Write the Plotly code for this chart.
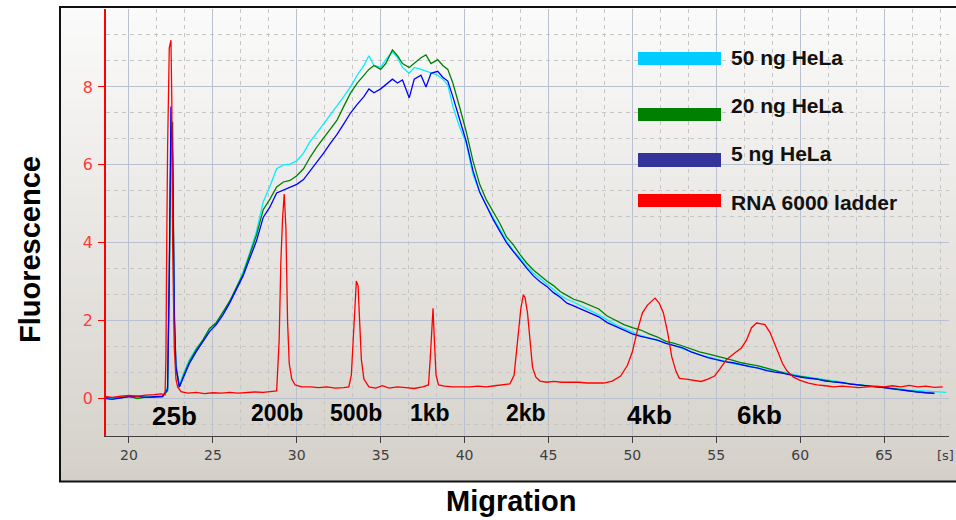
import plotly.graph_objects as go

# ---------------- data ----------------
mig_s = [18.6, 19.0, 19.5, 20.0, 20.5, 21.0, 21.5, 22.0, 22.3, 22.4, 22.5, 22.6, 22.7, 22.8,
         23.0, 23.3, 23.6, 24.0, 24.4, 24.8, 25.2, 25.6, 26.0, 26.4, 26.8, 27.2, 27.6, 28.0,
         28.4, 28.8, 29.2, 29.6, 30.0, 30.4, 30.8, 31.2, 31.6, 32.0, 32.4, 32.8, 33.2, 33.6,
         34.0, 34.3, 34.6, 35.0, 35.3, 35.7, 36.0, 36.3, 36.7, 37.0, 37.4, 37.7, 38.0, 38.4,
         38.7, 39.0, 39.3, 39.7, 40.1, 40.5, 40.9, 41.3, 41.7, 42.1, 42.5, 42.9, 43.3, 43.7,
         44.1, 44.5, 44.9, 45.3, 45.7, 46.1, 46.5, 47.0, 47.5, 48.0, 48.5, 49.0, 49.5, 50.0,
         50.5, 51.0, 51.5, 52.0, 52.5, 53.0, 53.5, 54.0, 54.5, 55.0, 55.5, 56.0, 56.5, 57.0,
         57.5, 58.0, 58.5, 59.0, 59.5, 60.0, 60.5, 61.0, 61.5, 62.0, 62.5, 63.0, 63.5, 64.0,
         64.5, 65.0, 65.5, 66.0, 66.5, 67.0, 67.5, 68.0, 68.7]

hela_50 = [0.02, 0.00, 0.03, 0.04, 0.02, 0.05, 0.06, 0.04, 0.30, 3.5, 6.4, 6.0, 2.5, 0.9,
           0.35, 0.70, 1.00, 1.28, 1.50, 1.78, 1.95, 2.20, 2.50, 2.85, 3.25, 3.75, 4.30, 5.05,
           5.45, 5.90, 6.00, 6.02, 6.10, 6.30, 6.60, 6.82, 7.05, 7.28, 7.50, 7.75, 8.00, 8.30,
           8.55, 8.80, 8.55, 8.50, 8.70, 8.90, 8.75, 8.50, 8.35, 8.50, 8.45, 8.40, 8.35, 8.30,
           8.20, 8.05, 7.50, 6.98, 6.55, 5.75, 5.30, 4.95, 4.65, 4.35, 4.05, 3.80, 3.62, 3.40,
           3.22, 3.08, 2.95, 2.80, 2.65, 2.55, 2.48, 2.38, 2.26, 2.15, 2.02, 1.90, 1.80, 1.70,
           1.62, 1.56, 1.50, 1.44, 1.36, 1.28, 1.20, 1.12, 1.07, 1.02, 0.96, 0.90, 0.87, 0.83,
           0.78, 0.74, 0.71, 0.68, 0.62, 0.58, 0.55, 0.52, 0.48, 0.45, 0.42, 0.38, 0.36, 0.34,
           0.31, 0.30, 0.27, 0.25, 0.22, 0.21, 0.19, 0.18, 0.16]

hela_20 = [0.03, 0.02, 0.01, 0.06, 0.00, 0.04, 0.03, 0.05, 0.20, 3.0, 6.8, 7.1, 2.0, 0.8,
           0.30, 0.65, 0.95, 1.25, 1.50, 1.80, 1.95, 2.22, 2.50, 2.85, 3.20, 3.70, 4.20, 4.85,
           5.12, 5.43, 5.56, 5.60, 5.72, 5.90, 6.20, 6.46, 6.68, 6.90, 7.15, 7.50, 7.84, 8.10,
           8.30, 8.45, 8.55, 8.45, 8.60, 8.95, 8.80, 8.60, 8.50, 8.60, 8.75, 8.82, 8.60, 8.70,
           8.55, 8.45, 8.10, 7.49, 6.85, 6.10, 5.50, 5.10, 4.80, 4.50, 4.15, 3.95, 3.70, 3.48,
           3.30, 3.15, 3.02, 2.90, 2.75, 2.65, 2.55, 2.48, 2.40, 2.30, 2.12, 2.00, 1.90, 1.82,
           1.76, 1.66, 1.58, 1.47, 1.42, 1.35, 1.28, 1.20, 1.15, 1.10, 1.04, 0.98, 0.92, 0.88,
           0.84, 0.78, 0.72, 0.67, 0.60, 0.57, 0.54, 0.50, 0.47, 0.43, 0.40, 0.37, 0.35, 0.32,
           0.30, 0.28, 0.26, 0.23, 0.20, 0.18, 0.16, 0.13, None]

hela_5 = [0.00, -0.02, 0.02, 0.05, 0.06, 0.03, 0.05, 0.06, 0.25, 3.2, 7.5, 6.2, 2.2, 0.8,
          0.30, 0.60, 0.90, 1.20, 1.45, 1.72, 1.90, 2.15, 2.45, 2.80, 3.15, 3.60, 4.05, 4.65,
          4.92, 5.28, 5.35, 5.42, 5.50, 5.62, 5.85, 6.05, 6.30, 6.55, 6.78, 7.05, 7.33, 7.55,
          7.75, 7.95, 7.85, 7.95, 8.05, 8.20, 8.10, 8.18, 7.72, 8.20, 8.30, 8.00, 8.35, 8.40,
          8.25, 8.15, 7.75, 7.15, 6.60, 5.85, 5.30, 4.95, 4.60, 4.30, 4.00, 3.78, 3.55, 3.35,
          3.15, 3.00, 2.88, 2.72, 2.60, 2.45, 2.38, 2.28, 2.18, 2.10, 1.95, 1.85, 1.75, 1.66,
          1.60, 1.55, 1.50, 1.42, 1.35, 1.30, 1.20, 1.12, 1.05, 1.00, 0.95, 0.92, 0.86, 0.82,
          0.78, 0.72, 0.68, 0.65, 0.60, 0.55, 0.52, 0.50, 0.45, 0.43, 0.41, 0.37, 0.35, 0.33,
          0.30, 0.28, 0.25, 0.22, 0.20, 0.17, 0.15, 0.14, None]

mig_l = [18.6, 19.0, 19.5, 20.0, 20.5, 21.0, 21.5, 21.9, 22.15, 22.2, 22.25, 22.3, 22.4, 22.5,
         22.55, 22.6, 22.7, 22.8, 22.9, 23.1, 23.5, 24.0, 24.5, 25.0, 25.5, 26.0, 26.5, 27.0,
         27.5, 28.0, 28.5, 28.8, 28.95, 29.05, 29.15, 29.25, 29.35, 29.45, 29.55, 29.7, 29.9,
         30.3, 30.8, 31.3, 31.8, 32.3, 32.8, 33.1, 33.25, 33.35, 33.45, 33.55, 33.65, 33.75,
         33.85, 34.0, 34.3, 34.7, 35.1, 35.5, 36.0, 36.5, 37.0, 37.5, 37.85, 37.95, 38.05,
         38.12, 38.2, 38.3, 38.45, 38.8, 39.3, 39.8, 40.3, 40.8, 41.3, 41.8, 42.3, 42.7, 42.95,
         43.15, 43.35, 43.5, 43.6, 43.75, 43.9, 44.05, 44.25, 44.5, 44.9, 45.3, 45.8, 46.3,
         46.8, 47.3, 47.8, 48.3, 48.8, 49.3, 49.7, 50.0, 50.3, 50.6, 50.9, 51.15, 51.35, 51.6,
         51.85, 52.1, 52.35, 52.6, 52.8, 53.2, 53.7, 54.1, 54.5, 54.9, 55.2, 55.6, 56.1, 56.5,
         56.8, 57.1, 57.4, 57.7, 57.9, 58.2, 58.5, 58.7, 58.95, 59.2, 59.6, 60.0, 60.5, 61.0,
         61.5, 62.0, 62.5, 63.0, 63.5, 64.0, 64.5, 65.0, 65.5, 66.0, 66.5, 67.0, 67.5, 68.0,
         68.5]

ladder = [0.05, 0.03, 0.06, 0.08, 0.06, 0.09, 0.10, 0.12, 0.10, 1.0, 4.0, 6.4, 9.0, 9.2,
          7.7, 4.0, 1.3, 0.5, 0.3, 0.18, 0.14, 0.16, 0.13, 0.15, 0.14, 0.16, 0.14, 0.15,
          0.17, 0.16, 0.18, 0.20, 1.5, 3.5, 4.6, 5.25, 4.4, 2.0, 0.9, 0.5, 0.35,
          0.30, 0.30, 0.28, 0.30, 0.27, 0.28, 0.30, 0.6, 1.5, 2.5, 3.02, 2.9, 2.0,
          1.0, 0.5, 0.30, 0.27, 0.33, 0.27, 0.30, 0.28, 0.26, 0.30, 0.35, 1.0, 2.0,
          2.32, 1.5, 0.6, 0.35, 0.32, 0.30, 0.30, 0.30, 0.32, 0.30, 0.33, 0.35, 0.38, 0.6,
          1.4, 2.3, 2.66, 2.6, 2.2, 1.4, 0.8, 0.55, 0.45, 0.42, 0.44, 0.42, 0.42,
          0.42, 0.40, 0.40, 0.40, 0.45, 0.58, 0.85, 1.2, 1.75, 2.2, 2.4, 2.5, 2.58, 2.45,
          2.2, 1.7, 1.07, 0.7, 0.52, 0.50, 0.47, 0.44, 0.50, 0.58, 0.75, 1.0, 1.17, 1.3,
          1.5, 1.82, 1.94, 1.92, 1.9, 1.7, 1.4, 1.17, 0.9, 0.72, 0.55, 0.47, 0.40, 0.35,
          0.33, 0.30, 0.32, 0.30, 0.28, 0.30, 0.32, 0.30, 0.33, 0.30, 0.34, 0.30, 0.32, 0.29,
          0.30]

size_labels = ["25b", "200b", "500b", "1kb", "2kb", "4kb", "6kb"]
size_label_x = [22.71, 28.82, 33.5, 37.95, 43.69, 51.05, 57.57]
size_label_y = [-0.45, -0.37, -0.37, -0.37, -0.37, -0.42, -0.42]
size_label_sz = [26, 23, 23, 23, 23, 26, 26]

series_names = ["50 ng HeLa", "20 ng HeLa", "5 ng HeLa", "RNA 6000 ladder"]
line_colors = ["#00F0FF", "#008000", "#0000FF", "#FF0000"]
legend_colors = ["#00CCFF", "#008000", "#333399", "#FF0000"]

x_ticks = [20, 25, 30, 35, 40, 45, 50, 55, 60, 65]
y_ticks = [0, 2, 4, 6, 8]

# ---------------- geometry helpers (pixels -> paper) ----------------
PL, PR, PT, PB = 106, 949, 9, 436
def fx(px):
    return (px - PL) / (PR - PL)
def fy(py):
    return (PB - py) / (PB - PT)

fig = go.Figure()
for name, ys, col in zip(series_names[:3], [hela_50, hela_20, hela_5], line_colors[:3]):
    fig.add_trace(go.Scatter(x=mig_s, y=ys, mode="lines", name=name,
                             line=dict(color=col, width=1.3), showlegend=False))
fig.add_trace(go.Scatter(x=mig_l, y=ladder, mode="lines", name=series_names[3],
                         line=dict(color=line_colors[3], width=1.3), showlegend=False))

shapes = []
# gradient panel background
top_c = (251, 251, 251)
bot_c = (212, 208, 201)
y_top_px, y_bot_px = 7, 482
N = 70
for i in range(N):
    t = (i + 0.5) / N
    c = tuple(int(round(top_c[k] + (bot_c[k] - top_c[k]) * t)) for k in range(3))
    y0 = y_top_px + (y_bot_px - y_top_px) * i / N
    y1 = y_top_px + (y_bot_px - y_top_px) * (i + 1) / N + 0.8
    shapes.append(dict(type="rect", xref="paper", yref="paper",
                       x0=fx(60), x1=fx(960), y0=fy(y0), y1=fy(min(y1, y_bot_px)),
                       fillcolor="rgb(%d,%d,%d)" % c, line=dict(width=0), layer="below"))
# panel border
shapes.append(dict(type="rect", xref="paper", yref="paper",
                   x0=fx(60), x1=fx(962), y0=fy(7), y1=fy(481.5),
                   fillcolor="rgba(0,0,0,0)", line=dict(color="#111111", width=2), layer="below"))

# legend bars
bar_rows = [(52, 65), (108, 121), (153, 167), (194, 207)]
for (a, b), col in zip(bar_rows, legend_colors):
    shapes.append(dict(type="rect", xref="paper", yref="paper",
                       x0=fx(638), x1=fx(721), y0=fy(b), y1=fy(a),
                       fillcolor=col, line=dict(width=0), layer="above"))

annotations = []
label_rows = [57, 105, 153, 203]
for name, yc in zip(series_names, label_rows):
    annotations.append(dict(xref="paper", yref="paper", x=fx(729), y=fy(yc),
                            xanchor="left", yanchor="middle", showarrow=False, text=name,
                            font=dict(family="Liberation Sans", size=21, color="#111111",
                                      weight="bold")))
for t, xv, yv, sz in zip(size_labels, size_label_x, size_label_y, size_label_sz):
    annotations.append(dict(x=xv, y=yv, xref="x", yref="y", text=t, showarrow=False,
                            xanchor="center", yanchor="middle",
                            font=dict(family="Liberation Sans", size=sz, color="#000000",
                                      weight="bold")))
annotations.append(dict(xref="paper", yref="paper", x=fx(30), y=fy(250), text="Fluorescence",
                        textangle=-90, showarrow=False, xanchor="center", yanchor="middle",
                        font=dict(family="Liberation Sans", size=29, color="#000000",
                                  weight="bold")))
annotations.append(dict(xref="paper", yref="paper", x=fx(511), y=fy(501), text="Migration",
                        showarrow=False, xanchor="center", yanchor="middle",
                        font=dict(family="Liberation Sans", size=29, color="#000000",
                                  weight="bold")))
annotations.append(dict(xref="paper", yref="paper", x=fx(935), y=fy(455), text="[s]",
                        showarrow=False, xanchor="left", yanchor="middle",
                        font=dict(family="DejaVu Sans", size=13, color="#404040")))

fig.update_layout(
    width=956, height=520, autosize=False,
    margin=dict(l=PL, r=956 - PR, t=PT, b=520 - PB),
    paper_bgcolor="white", plot_bgcolor="rgba(0,0,0,0)",
    shapes=shapes, annotations=annotations, showlegend=False,
    xaxis=dict(range=[18.63, 68.87], tickvals=x_ticks, ticks="outside", ticklen=6,
               tickcolor="#404040", tickwidth=1, showline=True, linecolor="#404040",
               linewidth=1, zeroline=False, showgrid=True, gridcolor="#b9c1d0", gridwidth=1,
               tickfont=dict(family="DejaVu Sans", size=14, color="#404040"),
               minor=dict(dtick=5 / 3, tick0=0, showgrid=True, gridcolor="#c6c6c6",
                          griddash="4px,4px", gridwidth=1, ticks="")),
    yaxis=dict(range=[-0.96, 10.0], tickvals=y_ticks, ticks="outside", ticklen=6,
               tickcolor="#FF0000", tickwidth=1, showline=True, linecolor="#FF0000",
               linewidth=1.5, zeroline=False, showgrid=True, gridcolor="#b9c1d0", gridwidth=1,
               tickfont=dict(family="DejaVu Sans", size=16, color="#FF3a3a"),
               ticklabelstandoff=2,
               minor=dict(dtick=2 / 3, tick0=0, showgrid=True, gridcolor="#c6c6c6",
                          griddash="4px,4px", gridwidth=1, ticks="")),
)

fig.write_html("out.html")
